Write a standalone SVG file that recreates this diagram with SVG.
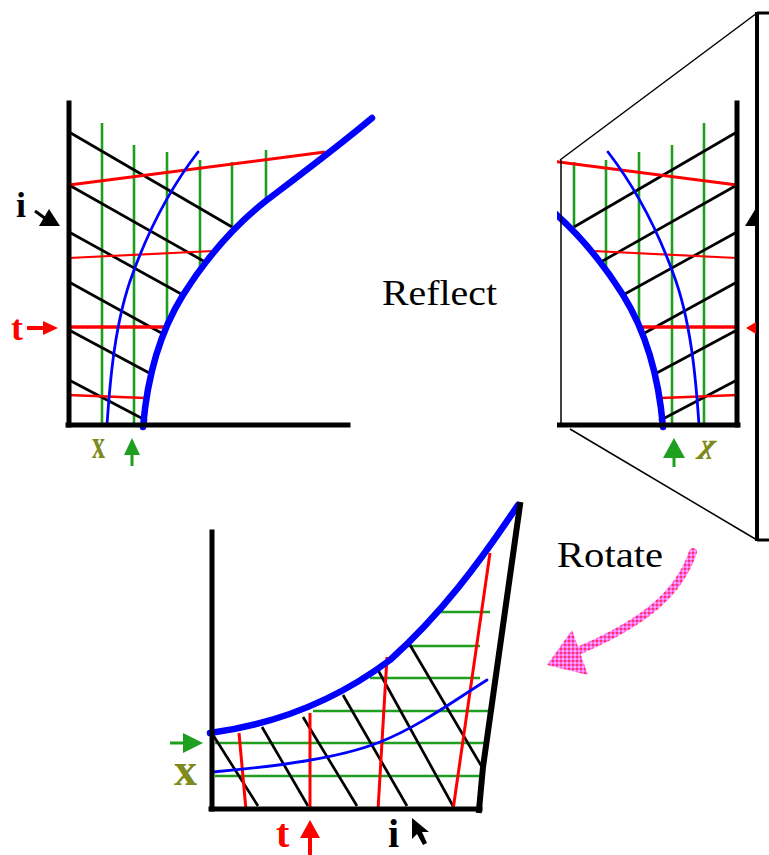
<svg xmlns="http://www.w3.org/2000/svg" width="769" height="855" viewBox="0 0 769 855">
<style>
.ax{stroke:#000;stroke-width:5;fill:none;stroke-linecap:square}
.thin{stroke:#000;stroke-width:1.5;fill:none}
.bk{stroke:#000;stroke-width:2.7;fill:none}
.gr{stroke:#1f9f1f;stroke-width:2.6;fill:none}
.rd{stroke:#ff0000;stroke-width:3;fill:none}
.bt{stroke:#0000ff;stroke-width:6.5;fill:none;stroke-linecap:round}
.bn{stroke:#0000ff;stroke-width:2.8;fill:none;stroke-linecap:round}
.lbl{font-family:"Liberation Serif",serif;font-weight:bold}
.cap{font-family:"Liberation Serif",serif;fill:#000}
</style>
<defs>
<pattern id="pinkdots" width="4" height="4" patternUnits="userSpaceOnUse">
<rect width="4" height="4" fill="#ff66f0"/>
<circle cx="1" cy="1" r="0.9" fill="#ff2020"/>
<circle cx="3" cy="3" r="0.8" fill="#ffffff"/>
</pattern>
<clipPath id="clipR"><rect x="557" y="0" width="200" height="480"/></clipPath>
<g id="panelA">
<g class="gr">
<line x1="102" y1="123" x2="102" y2="425"/>
<line x1="134" y1="145" x2="134" y2="425"/>
<line x1="167" y1="152" x2="167" y2="327"/>
<line x1="200" y1="160" x2="200" y2="270"/>
<line x1="232" y1="162" x2="232" y2="227"/>
<line x1="266" y1="150" x2="266" y2="200"/>
</g>
<g class="bk">
<line x1="69" y1="132" x2="232" y2="227"/>
<line x1="69" y1="185" x2="207" y2="263"/>
<line x1="69" y1="232" x2="183" y2="295"/>
<line x1="69" y1="282" x2="165" y2="335"/>
<line x1="69" y1="330" x2="153" y2="375"/>
<line x1="69" y1="380" x2="147" y2="421"/>
</g>
<g class="rd">
<line x1="69" y1="185" x2="325" y2="152"/>
<line x1="69" y1="258" x2="213" y2="251" stroke-width="2.2"/>
<line x1="69" y1="327" x2="167" y2="327" stroke-width="3.5"/>
<line x1="68" y1="395" x2="145" y2="398" stroke-width="2.5"/>
</g>
<path class="bn" d="M107,425 C110,380 115,320 133,273 C145,240 165,195 198,152"/>
<path class="bt" d="M143,427 C147,380 158,335 183,295 C205,260 235,225 267,200 C300,175 340,145 372,118"/>
<line class="ax" x1="69" y1="103" x2="69" y2="425"/>
<line class="ax" x1="68" y1="425" x2="348" y2="425"/>
</g>
</defs>

<g id="panel-left">
<use href="#panelA"/>
<text class="lbl" x="16" y="217" font-size="36" fill="#000">i</text>
<g id="arrow-i" fill="#000" stroke="#000">
<polygon points="39,226 60,226 49,209" stroke="none"/>
<line x1="35" y1="211" x2="46" y2="219" stroke-width="3"/>
</g>
<text class="lbl" x="11" y="340" font-size="36" fill="#ff0000">t</text>
<g id="arrow-t">
<line x1="27" y1="328" x2="45" y2="328" stroke="#ff0000" stroke-width="4"/>
<polygon points="43,321 58,328 43,335" fill="#ff0000"/>
</g>
<text class="lbl" x="92" y="458" font-size="40" fill="#7d8a1c" textLength="13" lengthAdjust="spacingAndGlyphs">x</text>
<g id="arrow-x-left">
<polygon points="124,455 132,438 140,455" fill="#1f9f1f"/>
<line x1="132" y1="454" x2="132" y2="466" stroke="#1f9f1f" stroke-width="3"/>
</g>
</g>

<g id="reflect-label">
<text class="cap" x="382" y="305" font-size="35" textLength="115" lengthAdjust="spacingAndGlyphs">Reflect</text>
</g>

<g id="panel-right">
<g clip-path="url(#clipR)">
<use href="#panelA" transform="matrix(-1,0,0,1,806,0)"/>
</g>
<line class="thin" x1="561" y1="160" x2="561" y2="425" stroke-width="2"/>
<line class="thin" x1="560" y1="160" x2="757" y2="13"/>
<line class="thin" x1="570" y1="429" x2="757" y2="540"/>
<line x1="757" y1="12" x2="757" y2="541" stroke="#000" stroke-width="4"/>
<line x1="757" y1="13" x2="769" y2="13" stroke="#000" stroke-width="3"/>
<line x1="757" y1="540" x2="769" y2="540" stroke="#000" stroke-width="3"/>
<polygon points="745,226 756,208 756,226" fill="#000"/>
<polygon points="746,328 756,322 756,334" fill="#ff0000"/>
<g id="arrow-x-right">
<polygon points="663,458 674,438 685,458" fill="#1f9f1f"/>
<line x1="674" y1="456" x2="674" y2="467" stroke="#1f9f1f" stroke-width="3"/>
</g>
<text class="lbl" font-size="40" fill="#7d8a1c" textLength="16" lengthAdjust="spacingAndGlyphs" transform="translate(711,459) scale(-1,1) skewX(20)" x="0" y="0">x</text>
</g>

<g id="rotate-label">
<text class="cap" x="557" y="567" font-size="36" textLength="106" lengthAdjust="spacingAndGlyphs">Rotate</text>
</g>

<g id="rotate-arrow">
<path d="M693,552 C680,590 650,620 580,650" stroke="url(#pinkdots)" stroke-width="8" fill="none" stroke-linecap="round"/>
<polygon points="547,665 572,630 588,675" fill="url(#pinkdots)"/>
</g>

<g id="panel-bottom">
<g class="gr">
<line x1="440" y1="612" x2="490" y2="612"/>
<line x1="408" y1="646" x2="480" y2="646"/>
<line x1="370" y1="678" x2="480" y2="678"/>
<line x1="313" y1="711" x2="488" y2="711"/>
<line x1="215" y1="743" x2="485" y2="743"/>
<line x1="215" y1="776" x2="482" y2="776"/>
</g>
<g class="bk">
<line x1="213" y1="735" x2="258" y2="806"/>
<line x1="262" y1="727" x2="308" y2="806"/>
<line x1="303" y1="717" x2="357" y2="806"/>
<line x1="343" y1="695" x2="407" y2="806"/>
<line x1="378" y1="670" x2="453" y2="806"/>
<line x1="410" y1="645" x2="482" y2="767"/>
</g>
<g class="rd">
<line x1="239" y1="733" x2="246" y2="810"/>
<line x1="310" y1="713" x2="310" y2="810"/>
<line x1="387" y1="657" x2="378" y2="810"/>
<line x1="490" y1="553" x2="453" y2="810"/>
</g>
<path class="bn" d="M213,772 C280,766 340,758 380,742 C420,726 455,700 487,680"/>
<path class="bt" d="M210,733 C270,725 330,705 390,660 C440,615 478,565 518,505"/>
<line class="ax" x1="212" y1="532" x2="212" y2="809"/>
<line class="ax" x1="211" y1="809" x2="480" y2="809"/>
<path d="M479,810 L483,767 L520,505" stroke="#000" stroke-width="6" fill="none" stroke-linecap="square"/>
<g id="arrow-x-bottom">
<line x1="170" y1="743" x2="186" y2="743" stroke="#1f9f1f" stroke-width="3"/>
<polygon points="183,733 203,743 183,753" fill="#1f9f1f"/>
</g>
<text class="lbl" x="174" y="785" font-size="46" fill="#7d8a1c" textLength="23" lengthAdjust="spacingAndGlyphs">x</text>
<text class="lbl" x="276" y="847" font-size="40" fill="#ff0000">t</text>
<g id="arrow-t-bottom">
<polygon points="300,838 310,820 320,838" fill="#ff0000"/>
<line x1="310" y1="836" x2="310" y2="855" stroke="#ff0000" stroke-width="4"/>
</g>
<text class="lbl" x="388" y="847" font-size="40" fill="#000">i</text>
<path id="cursor" d="M412,818 L412,839 L417,834 L423,845 L427,843 L422,832 L429,832 Z" fill="#000"/>
</g>
</svg>
